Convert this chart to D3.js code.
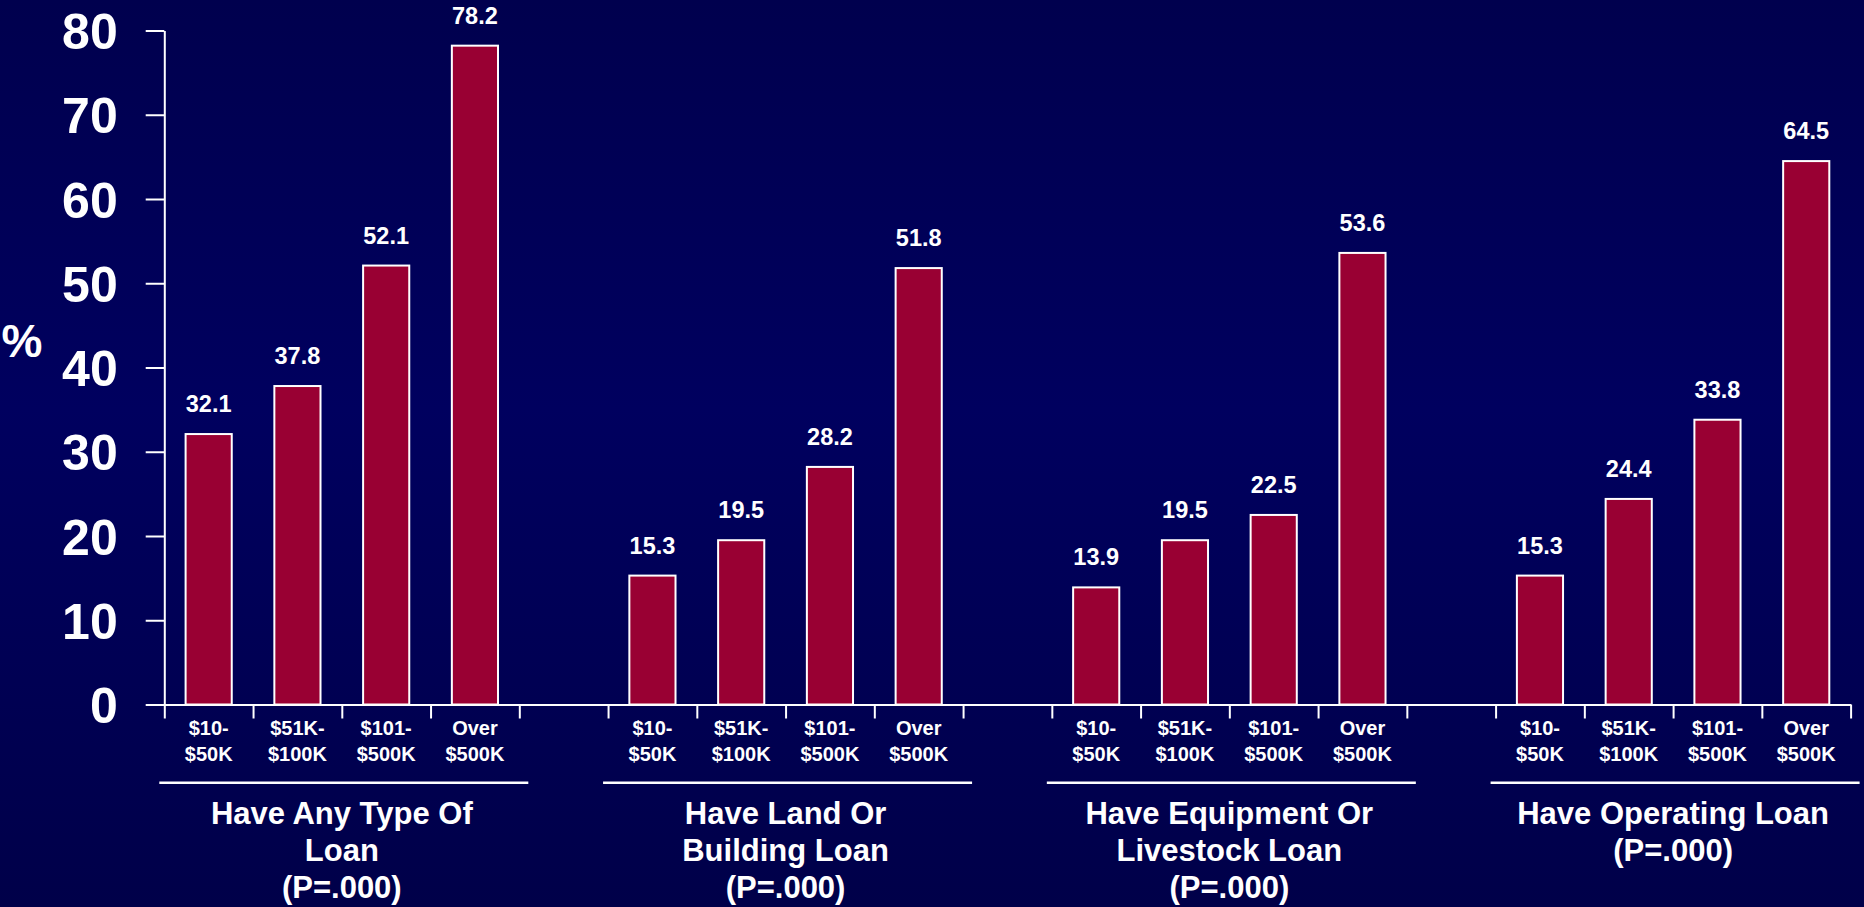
<!DOCTYPE html>
<html>
<head>
<meta charset="utf-8">
<script src="https://cdn.jsdelivr.net/npm/d3@7"></script>
<style>
  html, body { margin: 0; padding: 0; background: #00005a; }
  svg { display: block; }
  text { font-family: "Liberation Sans", Arial, sans-serif; font-weight: bold; fill: #fff; }
</style>
</head>
<body>
<svg id="chart" width="1864" height="907"></svg>
<script>
// Share of farms holding each loan type, by gross farm sales class
const salesClasses = [["$10-", "$50K"], ["$51K-", "$100K"], ["$101-", "$500K"], ["Over", "$500K"]];
const loanGroups = [
  ["Have Any Type Of", "Loan", "(P=.000)"],
  ["Have Land Or", "Building Loan", "(P=.000)"],
  ["Have Equipment Or", "Livestock Loan", "(P=.000)"],
  ["Have Operating Loan", "(P=.000)"]
];
const anyLoan = [32.1, 37.8, 52.1, 78.2];
const landBuildingLoan = [15.3, 19.5, 28.2, 51.8];
const equipmentLivestockLoan = [13.9, 19.5, 22.5, 53.6];
const operatingLoan = [15.3, 24.4, 33.8, 64.5];
const yTicks = [0, 10, 20, 30, 40, 50, 60, 70, 80];

const seriesByGroup = [anyLoan, landBuildingLoan, equipmentLivestockLoan, operatingLoan];

const svg = d3.select("#chart");
const W = 1864, H = 907;

// background
const defs = svg.append("defs");
const grad = defs.append("linearGradient").attr("id", "bg").attr("x1", 0).attr("y1", 0).attr("x2", 0).attr("y2", 1);
grad.append("stop").attr("offset", "0%").attr("stop-color", "#00004e");
grad.append("stop").attr("offset", "45%").attr("stop-color", "#00005f");
grad.append("stop").attr("offset", "100%").attr("stop-color", "#000049");
svg.append("rect").attr("width", W).attr("height", H).attr("fill", "url(#bg)");

// slots: four bars per group, one empty slot between groups
const slots = [];
loanGroups.forEach((g, gi) => {
  salesClasses.forEach((c, ci) => slots.push({ key: `g${gi}c${ci}`, gi, ci, value: seriesByGroup[gi][ci] }));
  if (gi < loanGroups.length - 1) slots.push({ key: `gap${gi}`, gi: -1 });
});

const x0 = 164.3, x1 = 1850.6;
const x = d3.scaleBand().domain(slots.map(d => d.key)).range([x0, x1]).padding(0);
const xi = d3.scaleLinear().domain([0, slots.length]).range([x0, x1]);
const y = d3.scaleLinear().domain([0, 80]).range([704.5, 30.5]);

// y axis
const yAxis = svg.append("g")
  .attr("transform", `translate(${x0},0)`)
  .call(d3.axisLeft(y).tickValues(yTicks).tickSize(18.6).tickSizeOuter(0).tickPadding(28));
yAxis.select(".domain").attr("stroke", "#fff").attr("stroke-width", 2);
yAxis.selectAll(".tick line").attr("stroke", "#fff").attr("stroke-width", 2);
yAxis.selectAll(".tick text")
  .attr("fill", "#fff").attr("font-size", 50).attr("font-family", "Liberation Sans, Arial, sans-serif")
  .attr("font-weight", "bold").attr("dy", "0.36em");

svg.append("text").attr("x", 22).attr("y", 340).attr("dy", "0.36em")
  .attr("text-anchor", "middle").attr("font-size", 46).text("%");

// x axis: ticks at every slot boundary
const xAxis = svg.append("g")
  .attr("transform", `translate(0,${y(0)})`)
  .call(d3.axisBottom(xi).tickValues(d3.range(slots.length + 1)).tickSize(14).tickSizeOuter(0).tickFormat(""));
xAxis.select(".domain").attr("stroke", "#fff").attr("stroke-width", 2);
xAxis.selectAll(".tick line").attr("stroke", "#fff").attr("stroke-width", 2);

// bars
const bars = slots.filter(d => d.gi >= 0);
const barW = x.bandwidth() * 0.52;
svg.append("g").selectAll("rect").data(bars).join("rect")
  .attr("x", d => x(d.key) + (x.bandwidth() - barW) / 2)
  .attr("y", d => y(d.value))
  .attr("width", barW)
  .attr("height", d => y(0) - y(d.value))
  .attr("fill", "#990033")
  .attr("stroke", "#fff")
  .attr("stroke-width", 2);

// value labels
svg.append("g").selectAll("text").data(bars).join("text")
  .attr("x", d => x(d.key) + x.bandwidth() / 2)
  .attr("y", d => y(d.value) - 22)
  .attr("text-anchor", "middle")
  .attr("font-size", 23.5)
  .text(d => d.value.toFixed(1));

// sales class labels
const cat = svg.append("g").selectAll("text").data(bars).join("text")
  .attr("text-anchor", "middle")
  .attr("font-size", 20);
cat.each(function(d) {
  const cx = x(d.key) + x.bandwidth() / 2;
  d3.select(this).selectAll("tspan").data(salesClasses[d.ci]).join("tspan")
    .attr("x", cx).attr("y", (t, i) => 735 + i * 26).text(t => t);
});

// group separators and titles
loanGroups.forEach((lines, gi) => {
  const first = x(`g${gi}c0`);
  const last = x(`g${gi}c3`) + x.bandwidth();
  svg.append("line")
    .attr("x1", first - 5).attr("x2", last + 9)
    .attr("y1", 782.7).attr("y2", 782.7)
    .attr("stroke", "#fff").attr("stroke-width", 2.5);
  svg.append("text").attr("text-anchor", "middle").attr("font-size", 31)
    .selectAll("tspan").data(lines).join("tspan")
    .attr("x", (first + last) / 2)
    .attr("y", (t, i) => 824 + i * 37)
    .text(t => t);
});
</script>
</body>
</html>
